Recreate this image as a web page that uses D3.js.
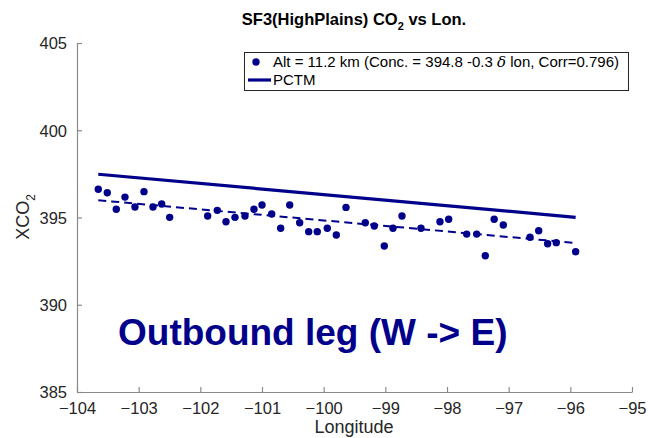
<!DOCTYPE html>
<html>
<head>
<meta charset="utf-8">
<script src="https://cdn.jsdelivr.net/npm/d3@7"></script>
<style>
  html, body { margin: 0; padding: 0; background: #fff; }
  svg { display: block; font-family: "Liberation Sans", Arial, Helvetica, sans-serif; }
</style>
</head>
<body>
<svg id="chart" width="648" height="438"></svg>
<script>
// ---- data ----
const lon = [-103.655, -103.509, -103.363, -103.222, -103.060, -102.914, -102.768, -102.627, -102.497,
  -101.881, -101.725, -101.584, -101.438, -101.276, -101.130, -101.000, -100.843, -100.697, -100.551,
  -100.389, -100.243, -100.104, -99.941, -99.795, -99.638, -99.325, -99.179, -99.017, -98.876, -98.730,
  -98.422, -98.114, -97.973, -97.681, -97.519, -97.379, -97.235, -97.087, -96.654, -96.513, -96.368,
  -96.228, -95.914];
const xco2 = [396.62, 396.42, 395.47, 396.17, 395.60, 396.48, 395.60, 395.77, 395.01,
  395.09, 395.41, 394.76, 395.01, 395.09, 395.47, 395.72, 395.20, 394.38, 395.72,
  394.70, 394.19, 394.19, 394.38, 394.00, 395.58, 394.70, 394.51, 393.37, 394.38, 395.09,
  394.38, 394.76, 394.90, 394.05, 394.05, 392.81, 394.90, 394.57, 393.87, 394.24, 393.50,
  393.56, 393.04];
const pctmLon = [-103.655, -95.914];
const pctmValue = [397.48, 395.01];
const fitLon = [-103.655, -95.914];
const fitValue = [395.99, 393.54];
const xTicks = [-104, -103, -102, -101, -100, -99, -98, -97, -96, -95];
const yTicks = [385, 390, 395, 400, 405];

const navy = "#00008b";
const svg = d3.select("#chart");
const x = d3.scaleLinear().domain([-104, -95]).range([77, 632]);
const y = d3.scaleLinear().domain([385, 405]).range([392, 43]);

// axes
const xAxis = d3.axisBottom(x).tickValues(xTicks).tickSizeInner(-5).tickSizeOuter(0).tickPadding(10);
const yAxis = d3.axisLeft(y).tickValues(yTicks).tickSizeInner(-5).tickSizeOuter(0).tickPadding(10);
const gx = svg.append("g").attr("transform", "translate(0,392)").call(xAxis);
const gy = svg.append("g").attr("transform", "translate(77,0)").call(yAxis);
[gx, gy].forEach(g => {
  g.select(".domain").attr("stroke", "#8a8a8a").attr("stroke-width", 1.2);
  g.selectAll(".tick line").attr("stroke", "#8a8a8a").attr("stroke-width", 1.2);
  g.selectAll(".tick text").attr("fill", "#262626").style("font-size", "16.5px")
    .style("font-family", "'Liberation Sans', Arial, sans-serif");
});
gy.selectAll(".tick text").attr("dy", "0.36em");

// PCTM line
const line = d3.line().x(d => x(d[0])).y(d => y(d[1]));
svg.append("path").datum(pctmLon.map((d, i) => [d, pctmValue[i]]))
  .attr("d", line).attr("fill", "none").attr("stroke", navy).attr("stroke-width", 3.2);
// fit line
svg.append("path").datum(fitLon.map((d, i) => [d, fitValue[i]]))
  .attr("d", line).attr("fill", "none").attr("stroke", navy).attr("stroke-width", 2)
  .attr("stroke-dasharray", "8,5");
// points
svg.append("g").selectAll("circle").data(lon).join("circle")
  .attr("cx", d => x(d)).attr("cy", (d, i) => y(xco2[i])).attr("r", 3.7).attr("fill", navy);

// title
const title = svg.append("text").attr("x", 354).attr("y", 25).attr("text-anchor", "middle")
  .style("font-size", "16.5px").style("font-weight", "bold").attr("fill", "#000");
title.append("tspan").text("SF3(HighPlains) CO");
title.append("tspan").attr("dy", 5).style("font-size", "11px").text("2");
title.append("tspan").attr("dy", -5).text(" vs Lon.");

// axis labels
svg.append("text").attr("x", 354).attr("y", 433).attr("text-anchor", "middle")
  .style("font-size", "18px").attr("fill", "#262626").text("Longitude");
const yl = svg.append("text").attr("transform", "translate(29,217) rotate(-90)").attr("text-anchor", "middle")
  .style("font-size", "18px").attr("fill", "#262626");
yl.append("tspan").text("XCO");
yl.append("tspan").attr("dy", 6).style("font-size", "12px").text("2");

// legend
svg.append("rect").attr("x", 244.5).attr("y", 52.5).attr("width", 384).attr("height", 38)
  .attr("fill", "#fff").attr("stroke", "#262626").attr("stroke-width", 1);
svg.append("circle").attr("cx", 256).attr("cy", 62).attr("r", 3.7).attr("fill", navy);
const lt = svg.append("text").attr("x", 273).attr("y", 67).style("font-size", "15px").attr("fill", "#000");
lt.append("tspan").text("Alt = 11.2 km (Conc. = 394.8 -0.3 ");
lt.append("tspan").style("font-family", "'DejaVu Serif', serif").style("font-style", "italic").text("δ");
lt.append("tspan").text(" lon, Corr=0.796)");
svg.append("line").attr("x1", 248).attr("x2", 271).attr("y1", 80).attr("y2", 80)
  .attr("stroke", navy).attr("stroke-width", 3.2);
svg.append("text").attr("x", 273).attr("y", 85).style("font-size", "15px").attr("fill", "#000").text("PCTM");

// annotation
svg.append("text").attr("x", 118).attr("y", 345).style("font-size", "37px").style("font-weight", "bold")
  .attr("fill", navy).text("Outbound leg (W -> E)");
</script>
</body>
</html>
